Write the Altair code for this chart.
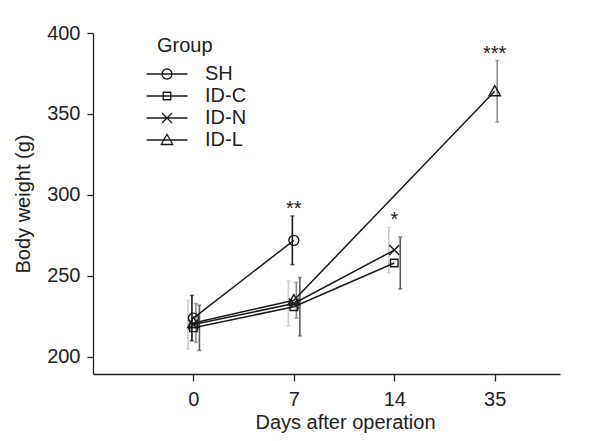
import altair as alt
import pandas as pd

# ---- data ----
days = ["0", "7", "14", "35"]
groups = ["SH", "ID-C", "ID-N", "ID-L"]
sh_mean = [224, 272, None, None]
sh_err = [14, 15, None, None]
idc_mean = [218, 231, 258, None]
idc_err = [14, 18, 16, None]
idn_mean = [220, 233, 266, None]
idn_err = [15, 14, 14, None]
idl_mean = [221, 235, None, 364]
idl_err = [12, 11, None, 19]
stars = ["", "**", "*", "***"]

# ---- styles ----
FONT = "Liberation Sans"
bar_colors = ["#1a1a1a", "#5c5c5c", "#cdcdcd", "#8a8a8a"]
bar_offsets_px = {"SH": -1.5, "ID-C": 6, "ID-N": -5.5, "ID-L": 2.5}
PX_PER_UNIT = 100.4
marker_paths = [
    "M-1,0A1,1 0 1,1 1,0A1,1 0 1,1 -1,0",
    "M-0.75,-0.75H0.75V0.75H-0.75Z",
    "M-1,-1L1,1M-1,1L1,-1",
    "M0,-1.15L1.15,0.9H-1.15Z",
]
legend_paths = ["M-4.1,0H4.1" + p for p in marker_paths]

means = {"SH": sh_mean, "ID-C": idc_mean, "ID-N": idn_mean, "ID-L": idl_mean}
errs = {"SH": sh_err, "ID-C": idc_err, "ID-N": idn_err, "ID-L": idl_err}

rows = []
for g in groups:
    for i, d in enumerate(days):
        m = means[g][i]
        if m is None:
            continue
        e = errs[g][i]
        rows.append({
            "Group": g, "idx": i, "day": d, "mean": m,
            "lo": m - e, "hi": m + e,
            "xb": i + bar_offsets_px[g] / PX_PER_UNIT,
        })
df = pd.DataFrame(rows)

star_rows = []
for i, s in enumerate(stars):
    if s:
        star_rows.append({"idx": i, "label": s, "top": df[df.idx == i]["hi"].max()})
sdf = pd.DataFrame(star_rows)

xscale = alt.Scale(domain=[-1, 3.65], nice=False, zero=False)
yscale = alt.Scale(domain=[189.5, 400], nice=False, zero=False)

xaxis = alt.Axis(
    values=[0, 1, 2, 3],
    labelExpr="['0','7','14','35'][datum.value]",
    title="Days after operation",
    grid=False, tickSize=7, labelPadding=8,
    titleX=252, titleY=54, titleBaseline="alphabetic", titleAlign="center",
)
yaxis = alt.Axis(
    values=[200, 250, 300, 350, 400],
    title="Body weight (g)", grid=False, tickSize=6, labelPadding=7,
    titlePadding=13,
)

base = alt.Chart(df)

bars = base.mark_rule(strokeWidth=1.6).encode(
    x=alt.X("xb:Q", scale=xscale, axis=xaxis),
    y=alt.Y("lo:Q", scale=yscale, axis=yaxis),
    y2="hi:Q",
    color=alt.Color("Group:N", scale=alt.Scale(domain=groups, range=bar_colors), legend=None),
)
cap_lo = base.mark_tick(orient="horizontal", size=4, thickness=1.6).encode(
    x=alt.X("xb:Q", scale=xscale),
    y=alt.Y("lo:Q", scale=yscale),
    color=alt.Color("Group:N", scale=alt.Scale(domain=groups, range=bar_colors), legend=None),
)
cap_hi = base.mark_tick(orient="horizontal", size=4, thickness=1.6).encode(
    x=alt.X("xb:Q", scale=xscale),
    y=alt.Y("hi:Q", scale=yscale),
    color=alt.Color("Group:N", scale=alt.Scale(domain=groups, range=bar_colors), legend=None),
)

lines = base.mark_line(color="#1a1a1a", strokeWidth=1.5).encode(
    x=alt.X("idx:Q", scale=xscale),
    y=alt.Y("mean:Q", scale=yscale),
    detail="Group:N",
    order="idx:Q",
)

points = base.mark_point(filled=False, color="#1a1a1a", size=100, strokeWidth=1.4, opacity=1).encode(
    x=alt.X("idx:Q", scale=xscale),
    y=alt.Y("mean:Q", scale=yscale),
    shape=alt.Shape("Group:N", scale=alt.Scale(domain=groups, range=marker_paths), legend=None),
)

legend_layer = base.mark_point(filled=False, color="#1a1a1a", size=100, opacity=0).encode(
    x=alt.X("idx:Q", scale=xscale),
    y=alt.Y("mean:Q", scale=yscale),
    shape=alt.Shape(
        "Group:N",
        scale=alt.Scale(domain=groups, range=legend_paths),
        legend=alt.Legend(
            title="Group", orient="none", legendX=64, legendY=3,
            symbolOpacity=1, symbolStrokeColor="#1a1a1a", symbolFillColor="transparent",
            symbolStrokeWidth=1.3, symbolSize=100, labelOffset=28, rowPadding=2,
            titlePadding=8, padding=0, labelFontSize=20, titleFontSize=20,
            labelFont=FONT, titleFont=FONT, titleFontWeight="normal",
            labelColor="#222", titleColor="#222",
        ),
    ),
)

star_text = alt.Chart(sdf).mark_text(
    font=FONT, fontSize=20, color="#222", baseline="alphabetic", dy=-1
).encode(
    x=alt.X("idx:Q", scale=xscale),
    y=alt.Y("top:Q", scale=yscale),
    text="label:N",
)

chart = alt.layer(bars, cap_lo, cap_hi, lines, points, legend_layer, star_text).resolve_scale(
    shape="independent"
).properties(
    width=467, height=341,
    autosize=alt.AutoSizeParams(type="none"),
    padding={"left": 85, "top": 25, "right": 20, "bottom": 59},
).configure_view(stroke=None).configure_axis(
    labelFont=FONT, titleFont=FONT, labelFontSize=20, titleFontSize=20,
    labelColor="#222", titleColor="#222", titleFontWeight="normal",
    domainColor="#222", tickColor="#222", domainWidth=1.3, tickWidth=1.3,
)

chart.save("out.html", embed_options={"renderer": "svg", "actions": False})
